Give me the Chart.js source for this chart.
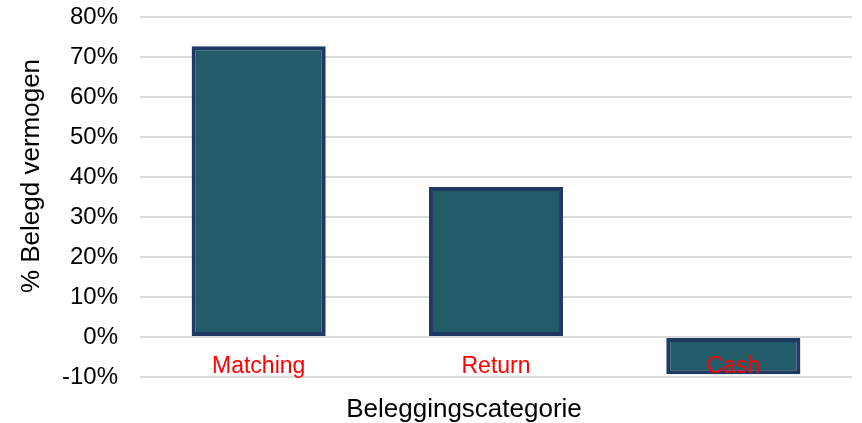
<!DOCTYPE html>
<html>
<head>
    <title>Beleggingscategorie</title>
    <script src="https://cdn.jsdelivr.net/npm/chart.js@4.4.1/dist/chart.umd.min.js"></script>
    <style>
        body {
            margin: 0;
            background-color: white;
        }
    </style>
</head>
<body>
    <canvas id="chart" width="862" height="423"></canvas>

    <script>
        const categories = ['Matching', 'Return', 'Cash'];
        const allocation = [72.7, 37.5, -9.3];
        const yTitle = '% Belegd vermogen';
        const xTitle = 'Beleggingscategorie';

        const fontFamily = '"Liberation Sans", Arial, sans-serif';

        // category names sit just under the zero line, and text titles placed like the original
        const labelPlugin = {
            id: 'labels',
            afterDatasetsDraw(chart) {
                const ctx = chart.ctx;
                const x = chart.scales.x;
                const y = chart.scales.y;
                ctx.save();
                ctx.fillStyle = '#FF0000';
                ctx.font = '23px ' + fontFamily;
                ctx.textAlign = 'center';
                ctx.textBaseline = 'alphabetic';
                categories.forEach((c, i) => {
                    ctx.fillText(c, x.getPixelForValue(i), y.getPixelForValue(0) + 36);
                });

                ctx.fillStyle = '#000000';
                ctx.font = '26px ' + fontFamily;
                ctx.fillText(xTitle, 464, 417);

                ctx.translate(39, 176);
                ctx.rotate(-Math.PI / 2);
                ctx.fillText(yTitle, 0, 0);
                ctx.restore();
            }
        };

        new Chart(document.getElementById('chart'), {
            type: 'bar',
            data: {
                labels: categories,
                datasets: [{
                    data: allocation,
                    backgroundColor: '#235A68',
                    borderColor: '#1F3864',
                    borderWidth: 4,
                    borderSkipped: false,
                    barPercentage: 0.565,
                    categoryPercentage: 1
                }]
            },
            options: {
                responsive: false,
                animation: false,
                layout: {
                    padding: { top: 0, right: 10, left: 0, bottom: 0 }
                },
                plugins: {
                    legend: { display: false },
                    tooltip: { enabled: false }
                },
                scales: {
                    x: {
                        grid: { display: false },
                        border: { display: false },
                        ticks: { display: false },
                        afterFit: s => { s.height = 46; }
                    },
                    y: {
                        min: -10,
                        max: 80,
                        border: { display: false },
                        grid: {
                            color: '#D9D9D9',
                            lineWidth: 2,
                            drawTicks: false
                        },
                        ticks: {
                            stepSize: 10,
                            padding: 22,
                            color: '#000000',
                            font: { family: fontFamily, size: 24 },
                            callback: v => v + '%'
                        },
                        afterFit: s => {
                            s.width = 140;
                            s.paddingTop = 17;
                            s.paddingBottom = 0;
                        }
                    }
                }
            },
            plugins: [labelPlugin]
        });
    </script>
</body>
</html>
